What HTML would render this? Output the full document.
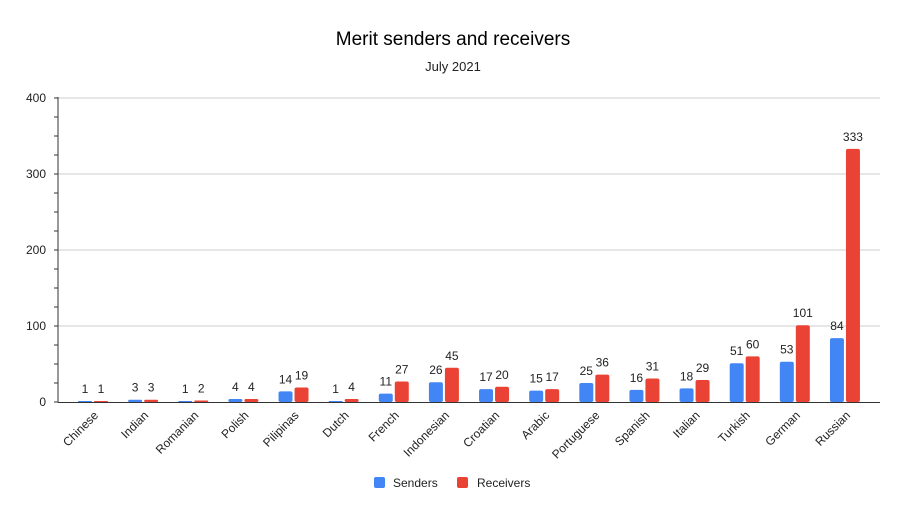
<!DOCTYPE html>
<html><head><meta charset="utf-8"><style>
body{margin:0;background:#fff;font-family:"Liberation Sans",Arial,sans-serif}
svg text{font-family:"Liberation Sans",Arial,sans-serif}
</style></head><body>
<svg id="chart" width="905" height="516" xmlns="http://www.w3.org/2000/svg">
<text x="453" y="45" text-anchor="middle" font-size="19" fill="#000">Merit senders and receivers</text>
<text x="453" y="71" text-anchor="middle" font-size="13" fill="#222">July 2021</text>
<g id="grid"></g><g id="bars"></g><g id="labels"></g>
<g>
<rect x="374" y="477" width="11" height="11" rx="2" fill="#4285f4"/>
<text x="393" y="487" font-size="12" fill="#222">Senders</text>
<rect x="457" y="477" width="11" height="11" rx="2" fill="#ea4335"/>
<text x="477" y="487" font-size="12" fill="#222">Receivers</text>
</g>
</svg>
<script>
const categories=["Chinese","Indian","Romanian","Polish","Pilipinas","Dutch","French","Indonesian","Croatian","Arabic","Portuguese","Spanish","Italian","Turkish","German","Russian"];
const senders=[1,3,1,4,14,1,11,26,17,15,25,16,18,51,53,84];
const receivers=[1,3,2,4,19,4,27,45,20,17,36,31,29,60,101,333];
const yTicks=[0,100,200,300,400];
const NS="http://www.w3.org/2000/svg";
const y0=402,pxPerUnit=76/100,x0=93,step=50.13,bw=14;
const yS=v=>y0-v*pxPerUnit;
const xC=i=>x0+i*step;
function mk(t,a,p){const e=document.createElementNS(NS,t);for(const k in a)e.setAttribute(k,a[k]);p.appendChild(e);return e;}
const grid=document.getElementById('grid'),bars=document.getElementById('bars'),labels=document.getElementById('labels');
yTicks.forEach(t=>{
  if(t>0){const g=mk('line',{x1:58,x2:880,y1:yS(t),y2:yS(t),stroke:'#ccc','stroke-width':1},grid);
  
  }
  const l=mk('text',{x:46,y:yS(t)+4,'text-anchor':'end','font-size':12,fill:'#222'},grid);
  l.textContent=t;
  
  
});
for(let v=0;v<=400;v+=25){
  const tk=mk('line',{x1:54,x2:58,y1:yS(v),y2:yS(v),stroke:'#333','stroke-width':1},grid);
  
  
}
const ax=mk('line',{x1:58,x2:58,y1:97,y2:402.5,stroke:'#333','stroke-width':1},grid);


categories.forEach((c,i)=>{
  const cx=xC(i);
  [[senders[i],cx-bw-1,'#4285f4','senders'],[receivers[i],cx+1,'#ea4335','receivers']].forEach(([v,x,col,s])=>{
    const h=Math.max(v*pxPerUnit,1);
    const r=mk('rect',{x:x,y:y0-h,width:bw,height:h,rx:Math.min(2,h/2),fill:col},bars);
    
    
    const t=mk('text',{x:x+bw/2,y:y0-h-8,'text-anchor':'middle','font-size':12,fill:'#222'},labels);
    t.textContent=v;
    
    
  });
  const cl=mk('text',{x:0,y:0,'text-anchor':'end','font-size':12,fill:'#222',transform:`translate(${cx+6},${y0+14}) rotate(-45)`},labels);
  cl.textContent=c;
  
  
});
const xa=mk('line',{x1:58,x2:880,y1:402.5,y2:402.5,stroke:'#333','stroke-width':1},grid);


</script>
</body></html>
